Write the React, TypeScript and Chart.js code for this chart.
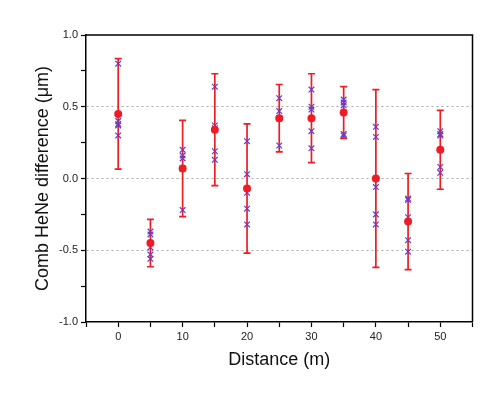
import React, { useEffect, useRef } from "react";
import { Chart, registerables } from "chart.js";

Chart.register(...registerables);

const distances = [0, 5, 10, 15, 20, 25, 30, 35, 40, 45, 50];
const meanValues = [0.45, -0.45, 0.07, 0.34, -0.07, 0.42, 0.42, 0.46, 0.0, -0.3, 0.2];
const errorValues = [0.385, 0.165, 0.335, 0.39, 0.45, 0.235, 0.31, 0.18, 0.62, 0.335, 0.275];
const measurements = [
  [0.8, 0.4, 0.38, 0.37, 0.3],
  [-0.37, -0.39, -0.48, -0.53, -0.56],
  [0.2, 0.16, 0.14, 0.07, -0.22],
  [0.64, 0.37, 0.35, 0.19, 0.13],
  [0.26, 0.03, -0.1, -0.21, -0.32],
  [0.56, 0.47, 0.42, 0.42, 0.23],
  [0.62, 0.5, 0.48, 0.33, 0.21],
  [0.55, 0.53, 0.51, 0.31, 0.3],
  [0.36, 0.29, -0.06, -0.25, -0.32],
  [-0.14, -0.15, -0.27, -0.43, -0.51],
  [0.33, 0.31, 0.3, 0.08, 0.04],
];
const yMajorLabels = [-1.0, -0.5, 0.0, 0.5, 1.0];
const xMajorLabels = [0, 10, 20, 30, 40, 50];

const RED = "#ee1c24";
const VIOLET = "#6a3cc4";
const FONT = "'Liberation Sans', Arial, sans-serif";

const errorBarPlugin = {
  id: "errorBars",
  beforeDatasetsDraw(chart: any) {
    const { ctx, scales } = chart;
    const xs = scales.x;
    const ys = scales.y;
    ctx.save();
    ctx.strokeStyle = RED;
    ctx.lineWidth = 1.7;
    distances.forEach((d, i) => {
      const px = xs.getPixelForValue(d);
      const top = ys.getPixelForValue(meanValues[i] + errorValues[i]);
      const bot = ys.getPixelForValue(meanValues[i] - errorValues[i]);
      ctx.beginPath();
      ctx.moveTo(px, top);
      ctx.lineTo(px, bot);
      ctx.moveTo(px - 3.5, top);
      ctx.lineTo(px + 3.5, top);
      ctx.moveTo(px - 3.5, bot);
      ctx.lineTo(px + 3.5, bot);
      ctx.stroke();
    });
    ctx.restore();
  },
};

const framePlugin = {
  id: "frame",
  afterDraw(chart: any) {
    const { ctx, chartArea } = chart;
    ctx.save();
    ctx.strokeStyle = "#000";
    ctx.lineWidth = 1.5;
    ctx.beginPath();
    ctx.moveTo(chartArea.left, chartArea.top);
    ctx.lineTo(chartArea.right, chartArea.top);
    ctx.lineTo(chartArea.right, chartArea.bottom);
    ctx.stroke();
    ctx.restore();
  },
};

export default function App() {
  const ref = useRef<HTMLCanvasElement>(null);
  useEffect(() => {
    document.body.style.margin = "0";
    const crossPoints: { x: number; y: number }[] = [];
    measurements.forEach((arr, i) => arr.forEach((v) => crossPoints.push({ x: distances[i], y: v })));
    const meanPoints = distances.map((d, i) => ({ x: d, y: meanValues[i] }));
    const chart = new Chart(ref.current as HTMLCanvasElement, {
      type: "scatter",
      data: {
        datasets: [
          {
            data: crossPoints,
            pointStyle: "crossRot",
            pointRadius: 4,
            borderColor: VIOLET,
            backgroundColor: VIOLET,
            borderWidth: 1.2,
            order: 2,
          },
          {
            data: meanPoints,
            pointStyle: "circle",
            pointRadius: 4,
            borderColor: RED,
            backgroundColor: RED,
            borderWidth: 0,
            order: 1,
          },
        ],
      },
      options: {
        animation: false,
        responsive: false,
        layout: { padding: { top: 35, right: 27.5, left: 0, bottom: 0 } },
        plugins: { legend: { display: false }, tooltip: { enabled: false } },
        scales: {
          x: {
            type: "linear",
            min: -5,
            max: 55,
            afterFit: (s: any) => {
              s.height = 75;
            },
            ticks: {
              stepSize: 5,
              padding: 3,
              color: "#222",
              font: { family: FONT, size: 11 },
              maxRotation: 0,
              autoSkip: false,
              callback: (v: any) => (xMajorLabels.includes(Number(v)) ? String(v) : ""),
            },
            grid: {
              color: "rgba(0,0,0,0)",
              tickColor: "#000",
              tickLength: 5,
              tickWidth: 1.2,
              tickBorderDash: [],
            },
            border: { color: "#000", width: 1.5 },
            title: {
              display: true,
              text: "Distance (m)",
              font: { family: FONT, size: 18 },
              color: "#111",
              padding: { top: 0, bottom: 26 },
            },
          },
          y: {
            type: "linear",
            min: -1,
            max: 1,
            afterFit: (s: any) => {
              s.width = 86;
            },
            ticks: {
              stepSize: 0.25,
              padding: 3,
              color: "#222",
              font: { family: FONT, size: 11 },
              autoSkip: false,
              callback: (v: any) => {
                const n = Number(v);
                return yMajorLabels.some((m) => Math.abs(m - n) < 1e-9) ? n.toFixed(1) : "";
              },
            },
            grid: {
              color: (c: any) => {
                const v = c.tick ? c.tick.value : 99;
                return Math.abs(v) < 1e-9 || Math.abs(Math.abs(v) - 0.5) < 1e-9 ? "#a8a8a8" : "rgba(0,0,0,0)";
              },
              lineWidth: 1,
              tickColor: "#000",
              tickLength: 5,
              tickWidth: 1.2,
              tickBorderDash: [],
            },
            border: { color: "#000", width: 1.5, dash: [2, 3] },
            title: {
              display: true,
              text: "Comb HeNe difference (μm)",
              font: { family: FONT, size: 18 },
              color: "#111",
              padding: { top: 32, bottom: 0 },
            },
          },
        },
      },
      plugins: [errorBarPlugin, framePlugin],
    } as any);
    return () => chart.destroy();
  }, []);
  return <canvas ref={ref} width={500} height={397} style={{ display: "block" }} />;
}
